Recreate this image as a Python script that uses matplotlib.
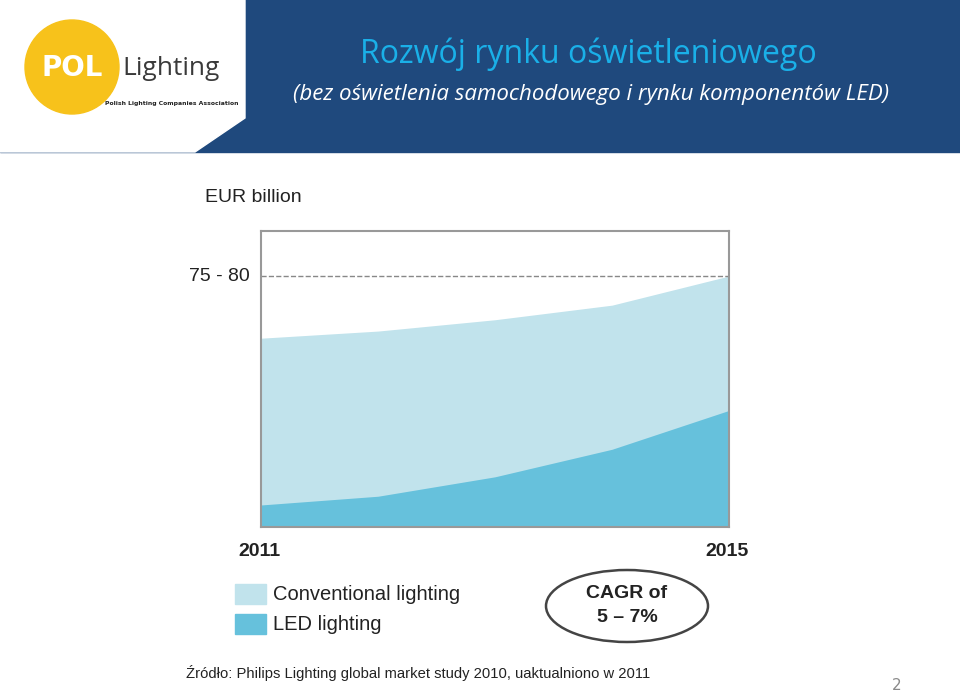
import matplotlib
matplotlib.use("Agg")
import matplotlib.pyplot as plt
from matplotlib.patches import Polygon, Circle, Ellipse, Rectangle

W, H = 960, 694

# market data (EUR billion)
years = [2011, 2012, 2013, 2014, 2015]
total = [58.3, 60.5, 64.0, 68.5, 77.5]
led = [6.8, 9.5, 15.5, 24.0, 36.0]
top_label = "75 - 80"
top_level = 77.5

fig = plt.figure(figsize=(W / 100, H / 100), dpi=100)
bg = fig.add_axes([0, 0, 1, 1])
bg.set_xlim(0, W)
bg.set_ylim(H, 0)
bg.axis("off")

# header band
bg.add_patch(Rectangle((0, 0), W, 152, color="#1f497d", zorder=0))
bg.add_patch(Polygon([(0, 0), (245, 0), (245, 118), (195, 152), (0, 152)],
                     color="white", zorder=1))
bg.add_patch(Circle((72, 67), 47, color="#f7c21b", zorder=2))
bg.text(72, 68, "POL", fontsize=20, fontweight="bold", color="white",
        ha="center", va="center", family="DejaVu Sans", zorder=3)
bg.text(122, 68, "Lighting", fontsize=19, color="#3a3a3a", ha="left",
        va="center", family="Open Sans", zorder=3)
bg.text(105, 103, "Polish Lighting Companies Association", fontsize=4.4,
        fontweight="bold", color="#222222", ha="left", va="center", zorder=3)

bg.text(588, 54, "Rozwój rynku oświetleniowego", fontsize=23,
        color="#1ab0e8", ha="center", va="center", family="Open Sans")
bg.text(591, 94, "(bez oświetlenia samochodowego i rynku komponentów LED)",
        fontsize=16, style="italic", color="white", ha="center",
        va="center", family="Open Sans")

# chart area
ax = fig.add_axes([261 / W, 1 - 527 / H, (729 - 261) / W, (527 - 231) / H])
ax.set_xlim(years[0], years[-1])
ax.set_ylim(0, 91.4)
ax.fill_between(years, 0, total, color="#c1e3ec", lw=0)
ax.fill_between(years, 0, led, color="#66c1dc", lw=0)
ax.axhline(top_level, color="#888888", ls="--", lw=1)
ax.set_xticks([])
ax.set_yticks([])
for s in ax.spines.values():
    s.set_color("#999999")
    s.set_linewidth(1.5)

fs = dict(family="Liberation Sans", color="#222222")
bg.text(205, 197, "EUR billion", fontsize=14, va="center", **fs)
bg.text(189, 276, top_label, fontsize=14, va="center", **fs)
bg.text(238, 552, str(years[0]), fontsize=14, fontweight="bold", va="center", **fs)
bg.text(705, 552, str(years[-1]), fontsize=14, fontweight="bold", va="center", **fs)

bg.add_patch(Rectangle((235, 584), 31, 20, color="#c1e3ec"))
bg.add_patch(Rectangle((235, 614), 31, 20, color="#66c1dc"))
bg.text(273, 595, "Conventional lighting", fontsize=14.5, va="center", **fs)
bg.text(273, 625, "LED lighting", fontsize=14.5, va="center", **fs)

bg.add_patch(Ellipse((627, 606), 162, 72, fill=False, ec="#444444", lw=1.8))
bg.text(627, 594, "CAGR of", fontsize=14, fontweight="bold", ha="center", va="center", **fs)
bg.text(627, 618, "5 – 7%", fontsize=14, fontweight="bold", ha="center", va="center", **fs)

bg.text(186, 673, "Źródło: Philips Lighting global market study 2010, uaktualniono w 2011",
        fontsize=10.6, va="center", **fs)
bg.text(897, 686, "2", fontsize=11, color="#8a8a8a", ha="center", va="center")

fig.savefig("out.png", dpi=100)
